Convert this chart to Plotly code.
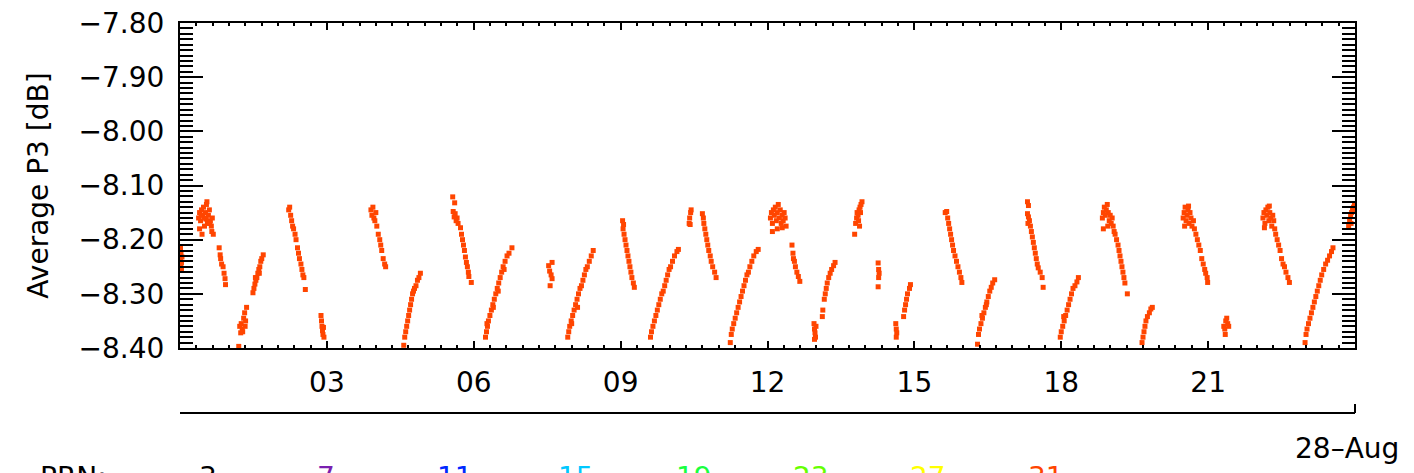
import plotly.graph_objects as go

# ---------------- data ----------------
# time of day on 28-Aug in hours, one list per satellite pass
pass_hours = [
    [0.01, 0.02, 0.01, 0.03, 0.02, 0.04, 0.03],
    [0.38, 0.40, 0.42, 0.44, 0.46, 0.48, 0.50, 0.52, 0.54, 0.56, 0.58, 0.60, 0.62, 0.64, 0.66, 0.68, 0.40, 0.45, 0.55, 0.50, 0.61, 0.65, 0.43, 0.53],
    [0.80, 0.82, 0.83, 0.85, 0.88, 0.90, 0.92, 0.93],
    [1.22, 1.25, 1.27, 1.30, 1.32, 1.34, 1.36, 1.28, 1.24, 1.33, 1.20],
    [1.49, 1.51, 1.53, 1.55, 1.57, 1.59, 1.61, 1.63, 1.65, 1.67, 1.70, 1.54, 1.62],
    [2.22, 2.24, 2.26, 2.28, 2.30, 2.32, 2.35, 2.37, 2.40, 2.42, 2.44, 2.47, 2.49, 2.51, 2.53, 2.56],
    [2.88, 2.89, 2.90, 2.91, 2.92, 2.94, 2.93],
    [3.90, 3.92, 3.94, 3.96, 3.98, 4.00, 4.02, 4.05, 4.08, 4.10, 4.12, 4.15, 4.18, 4.20],
    [4.57, 4.59, 4.61, 4.63, 4.65, 4.67, 4.69, 4.71, 4.73, 4.75, 4.77, 4.79, 4.82, 4.85, 4.88, 4.91],
    [5.57, 5.61, 5.58, 5.60, 5.62, 5.64, 5.66, 5.68, 5.73, 5.75, 5.77, 5.79, 5.81, 5.83, 5.85, 5.87, 5.89, 5.90, 5.95],
    [6.24, 6.26, 6.28, 6.30, 6.33, 6.36, 6.39, 6.42, 6.45, 6.48, 6.51, 6.54, 6.57, 6.60, 6.64, 6.68, 6.72, 6.78, 6.27, 6.40, 6.50, 6.62],
    [7.53, 7.60, 7.55, 7.58, 7.60, 7.56],
    [7.92, 7.94, 7.96, 7.99, 8.02, 8.05, 8.08, 8.11, 8.14, 8.17, 8.20, 8.23, 8.26, 8.29, 8.32, 8.36, 8.40, 8.44, 8.00, 8.12],
    [9.04, 9.06, 9.05, 9.07, 9.09, 9.11, 9.13, 9.15, 9.17, 9.19, 9.21, 9.23, 9.26, 9.28],
    [9.61, 9.63, 9.66, 9.69, 9.72, 9.75, 9.78, 9.81, 9.84, 9.87, 9.90, 9.93, 9.96, 9.99, 10.02, 10.06, 10.10, 10.15, 10.18],
    [10.40, 10.41, 10.43, 10.44, 10.42],
    [10.67, 10.69, 10.70, 10.72, 10.74, 10.76, 10.78, 10.80, 10.83, 10.85, 10.88, 10.92, 10.95],
    [11.24, 11.26, 11.28, 11.31, 11.34, 11.37, 11.40, 11.43, 11.46, 11.49, 11.52, 11.55, 11.58, 11.61, 11.64, 11.68, 11.72, 11.77, 11.81],
    [12.06, 12.08, 12.10, 12.12, 12.14, 12.16, 12.18, 12.20, 12.22, 12.24, 12.26, 12.28, 12.30, 12.32, 12.34, 12.36, 12.38, 12.10, 12.20, 12.30],
    [12.50, 12.52, 12.53, 12.55, 12.57, 12.60, 12.63, 12.66],
    [12.95, 12.96, 12.97, 12.98, 12.96, 12.99, 13.12, 13.13, 13.16, 13.18, 13.20, 13.22, 13.25, 13.28, 13.31, 13.35, 13.38],
    [13.78, 13.80, 13.82, 13.83, 13.85, 13.87, 13.89, 13.91, 13.93, 13.86, 13.90, 13.88],
    [14.26, 14.27, 14.28, 14.27, 14.26],
    [14.62, 14.63, 14.64, 14.63, 14.78, 14.80, 14.82, 14.84, 14.86, 14.90, 14.92],
    [15.63, 15.66, 15.68, 15.70, 15.72, 15.74, 15.76, 15.78, 15.80, 15.83, 15.86, 15.89, 15.92, 15.95, 15.97],
    [16.29, 16.31, 16.33, 16.36, 16.39, 16.42, 16.45, 16.48, 16.51, 16.54, 16.57, 16.60, 16.64, 16.38, 16.47],
    [17.31, 17.33, 17.31, 17.33, 17.35, 17.32, 17.37, 17.39, 17.41, 17.43, 17.45, 17.47, 17.49, 17.51, 17.53, 17.57, 17.61, 17.63],
    [17.98, 18.00, 18.03, 18.06, 18.09, 18.12, 18.15, 18.18, 18.21, 18.24, 18.28, 18.32, 18.35, 18.05],
    [18.84, 18.86, 18.88, 18.90, 18.92, 18.94, 18.96, 18.98, 19.00, 19.02, 19.04, 19.06, 18.86, 18.95, 19.08, 19.10, 19.13, 19.16, 19.18, 19.20, 19.22, 19.24, 19.26, 19.28, 19.30, 19.35],
    [19.65, 19.67, 19.69, 19.71, 19.73, 19.76, 19.80, 19.83, 19.86],
    [20.49, 20.51, 20.53, 20.55, 20.57, 20.59, 20.61, 20.63, 20.65, 20.67, 20.70, 20.72, 20.52, 20.60, 20.75, 20.78, 20.81, 20.84, 20.87, 20.90, 20.93, 20.95, 20.98, 20.99],
    [21.32, 21.34, 21.36, 21.38, 21.40, 21.35, 21.42],
    [22.12, 22.14, 22.16, 22.18, 22.20, 22.22, 22.24, 22.26, 22.28, 22.30, 22.32, 22.34, 22.36, 22.15, 22.25, 22.38, 22.41, 22.44, 22.47, 22.50, 22.53, 22.56, 22.59, 22.63, 22.66],
    [22.98, 23.00, 23.02, 23.05, 23.08, 23.11, 23.14, 23.17, 23.20, 23.23, 23.26, 23.29, 23.32, 23.36, 23.40, 23.44, 23.48, 23.52, 23.55],
    [23.87, 23.89, 23.91, 23.93, 23.95, 23.97, 23.99, 23.92],
]

# Average P3 in dB, matching pass_hours
pass_p3 = [
    [-8.215, -8.225, -8.235, -8.242, -8.25, -8.232, -8.255],
    [-8.16, -8.15, -8.165, -8.145, -8.155, -8.14, -8.16, -8.15, -8.135, -8.17, -8.155, -8.145, -8.165, -8.175, -8.16, -8.19, -8.18, -8.19, -8.13, -8.175, -8.17, -8.185, -8.155, -8.162],
    [-8.215, -8.228, -8.235, -8.245, -8.25, -8.262, -8.272, -8.283],
    [-8.36, -8.355, -8.365, -8.345, -8.335, -8.35, -8.325, -8.37, -8.372, -8.36, -8.397],
    [-8.298, -8.29, -8.282, -8.275, -8.27, -8.262, -8.255, -8.25, -8.24, -8.235, -8.228, -8.27, -8.262],
    [-8.145, -8.14, -8.155, -8.165, -8.175, -8.18, -8.19, -8.2, -8.215, -8.225, -8.235, -8.245, -8.255, -8.265, -8.27, -8.292],
    [-8.34, -8.35, -8.36, -8.368, -8.375, -8.38, -8.362],
    [-8.145, -8.155, -8.14, -8.16, -8.165, -8.15, -8.175, -8.19, -8.2, -8.21, -8.22, -8.235, -8.245, -8.25],
    [-8.395, -8.38, -8.37, -8.36, -8.35, -8.34, -8.33, -8.32, -8.31, -8.3, -8.295, -8.29, -8.285, -8.275, -8.27, -8.262],
    [-8.121, -8.132, -8.148, -8.158, -8.152, -8.165, -8.16, -8.17, -8.178, -8.19, -8.2, -8.21, -8.22, -8.232, -8.242, -8.25, -8.26, -8.268, -8.279],
    [-8.38, -8.37, -8.36, -8.35, -8.34, -8.33, -8.32, -8.31, -8.3, -8.29, -8.28, -8.27, -8.26, -8.25, -8.24, -8.23, -8.225, -8.215, -8.355, -8.325, -8.295, -8.255],
    [-8.248, -8.242, -8.258, -8.265, -8.272, -8.285],
    [-8.38, -8.37, -8.36, -8.35, -8.34, -8.33, -8.32, -8.31, -8.3, -8.29, -8.285, -8.275, -8.265, -8.255, -8.25, -8.24, -8.23, -8.22, -8.355, -8.325],
    [-8.165, -8.172, -8.18, -8.19, -8.2, -8.21, -8.22, -8.23, -8.24, -8.25, -8.26, -8.27, -8.28, -8.288],
    [-8.38, -8.37, -8.36, -8.35, -8.34, -8.33, -8.32, -8.31, -8.3, -8.295, -8.285, -8.275, -8.265, -8.255, -8.25, -8.24, -8.23, -8.222, -8.218],
    [-8.17, -8.16, -8.15, -8.145, -8.172],
    [-8.152, -8.16, -8.17, -8.18, -8.19, -8.2, -8.21, -8.22, -8.23, -8.24, -8.25, -8.26, -8.27],
    [-8.39, -8.375, -8.365, -8.355, -8.345, -8.335, -8.325, -8.315, -8.305, -8.295, -8.285, -8.275, -8.265, -8.26, -8.25, -8.24, -8.23, -8.222, -8.218],
    [-8.16, -8.15, -8.17, -8.145, -8.155, -8.14, -8.165, -8.15, -8.135, -8.16, -8.145, -8.17, -8.155, -8.165, -8.15, -8.16, -8.175, -8.185, -8.18, -8.178],
    [-8.21, -8.225, -8.235, -8.24, -8.25, -8.26, -8.268, -8.277],
    [-8.355, -8.365, -8.372, -8.38, -8.384, -8.36, -8.342, -8.33, -8.31, -8.3, -8.29, -8.28, -8.27, -8.262, -8.255, -8.248, -8.242],
    [-8.19, -8.17, -8.16, -8.15, -8.155, -8.145, -8.14, -8.135, -8.13, -8.165, -8.15, -8.175],
    [-8.243, -8.255, -8.262, -8.27, -8.287],
    [-8.355, -8.365, -8.372, -8.38, -8.342, -8.33, -8.32, -8.31, -8.3, -8.29, -8.283],
    [-8.15, -8.148, -8.16, -8.17, -8.18, -8.19, -8.2, -8.21, -8.22, -8.23, -8.24, -8.25, -8.26, -8.27, -8.279],
    [-8.393, -8.375, -8.365, -8.355, -8.345, -8.335, -8.325, -8.315, -8.305, -8.295, -8.288, -8.28, -8.274, -8.34, -8.32],
    [-8.13, -8.137, -8.152, -8.158, -8.165, -8.17, -8.175, -8.185, -8.195, -8.205, -8.215, -8.225, -8.235, -8.245, -8.252, -8.26, -8.27, -8.288],
    [-8.38, -8.37, -8.36, -8.35, -8.34, -8.33, -8.32, -8.31, -8.3, -8.29, -8.285, -8.278, -8.27, -8.342],
    [-8.16, -8.15, -8.14, -8.155, -8.145, -8.135, -8.15, -8.165, -8.155, -8.17, -8.16, -8.175, -8.18, -8.175, -8.185, -8.19, -8.2, -8.21, -8.22, -8.23, -8.24, -8.25, -8.26, -8.27, -8.28, -8.3],
    [-8.39, -8.38, -8.37, -8.36, -8.35, -8.342, -8.335, -8.328, -8.325],
    [-8.16, -8.15, -8.14, -8.165, -8.155, -8.145, -8.17, -8.15, -8.16, -8.175, -8.165, -8.18, -8.175, -8.138, -8.19, -8.2, -8.21, -8.22, -8.235, -8.245, -8.255, -8.262, -8.27, -8.279],
    [-8.36, -8.365, -8.35, -8.345, -8.355, -8.375, -8.36],
    [-8.16, -8.15, -8.17, -8.145, -8.155, -8.14, -8.165, -8.15, -8.16, -8.175, -8.155, -8.165, -8.18, -8.178, -8.138, -8.19, -8.2, -8.21, -8.22, -8.235, -8.245, -8.25, -8.26, -8.27, -8.279],
    [-8.39, -8.375, -8.365, -8.355, -8.345, -8.335, -8.325, -8.315, -8.305, -8.295, -8.285, -8.275, -8.265, -8.255, -8.245, -8.238, -8.23, -8.222, -8.215],
    [-8.175, -8.165, -8.155, -8.15, -8.145, -8.14, -8.135, -8.17],
]

x_tick_hours = [3, 6, 9, 12, 15, 18, 21]
x_tick_labels = ["03", "06", "09", "12", "15", "18", "21"]
y_tick_values = [-7.80, -7.90, -8.00, -8.10, -8.20, -8.30, -8.40]
y_tick_labels = ["\u22127.80", "\u22127.90", "\u22128.00", "\u22128.10", "\u22128.20", "\u22128.30", "\u22128.40"]
date_label = "28\u2013Aug"
prn_labels = ["3", "7", "11", "15", "19", "23", "27", "31"]
prn_colors = ["#000000", "#7a1fb0", "#0028ff", "#00c8ff", "#19ff40", "#66ff00", "#ffff00", "#ff4500"]
prn_xpos = [208, 326, 455, 576, 694, 811, 928, 1046]

# ---------------- figure ----------------
hours = []
avg_p3 = []
for hs, vs in zip(pass_hours, pass_p3):
    for h, v in zip(hs, vs):
        hours.append(h)
        avg_p3.append(v)

FONT = "DejaVu Sans"
W, H = 1414, 473
ML, MR, MT, MB = 180, 59, 23, 125
PH = H - MT - MB
PW = W - ML - MR

fig = go.Figure()
fig.add_trace(go.Scatter(
    x=hours, y=avg_p3, mode="markers",
    marker=dict(symbol="square", size=5, color="#ff4500", line=dict(width=0)),
    showlegend=False, hoverinfo="skip",
))

fig.update_layout(
    width=W, height=H,
    margin=dict(l=ML, r=MR, t=MT, b=MB, pad=0, autoexpand=False),
    paper_bgcolor="white", plot_bgcolor="white",
    font=dict(family=FONT, size=28, color="black"),
    xaxis=dict(
        range=[0, 24], showgrid=False, zeroline=False, automargin=False,
        showline=True, linecolor="black", linewidth=2, mirror="ticks",
        tickmode="array", tickvals=x_tick_hours, ticktext=x_tick_labels,
        ticks="inside", ticklen=7, tickwidth=2, tickcolor="black",
        ticklabelstandoff=8,
        tickfont=dict(family=FONT, size=28, color="black"),
        minor=dict(dtick=1 / 3, tick0=0, ticks="inside", ticklen=3, tickwidth=2, tickcolor="black", showgrid=False),
    ),
    yaxis=dict(
        range=[-8.40, -7.80], showgrid=False, zeroline=False, automargin=False,
        showline=True, linecolor="black", linewidth=2, mirror="ticks",
        tickmode="array", tickvals=y_tick_values, ticktext=y_tick_labels,
        ticks="inside", ticklen=23, tickwidth=2, tickcolor="black",
        ticklabelstandoff=8,
        tickfont=dict(family=FONT, size=28, color="black"),
        minor=dict(dtick=0.01, tick0=-8.40, ticks="inside", ticklen=13, tickwidth=2, tickcolor="black", showgrid=False),
        title=dict(text="Average P3 [dB]", standoff=22, font=dict(family=FONT, size=28, color="black")),
    ),
)

# second (date) axis line below the plot
y2 = -65 / PH
fig.add_shape(type="line", xref="paper", yref="paper", x0=0, x1=1, y0=y2, y1=y2,
              line=dict(color="black", width=2))
fig.add_shape(type="line", xref="paper", yref="paper", x0=1, x1=1, y0=y2, y1=y2 + 9 / PH,
              line=dict(color="black", width=2))
fig.add_annotation(text=date_label, xref="paper", yref="paper", x=(1293 - ML) / PW, y=-(448 - (H - MB)) / PH,
                   xanchor="left", yanchor="middle", showarrow=False,
                   font=dict(family=FONT, size=28, color="black"))

# PRN colour key (cut off at the bottom of the page, as in the reference)
ky = -(477 - (H - MB)) / PH
fig.add_annotation(text="PRN:", xref="paper", yref="paper", x=(38 - ML) / PW, y=ky,
                   xanchor="left", yanchor="middle", showarrow=False,
                   font=dict(family=FONT, size=28, color="black"))
for lab, col, xp in zip(prn_labels, prn_colors, prn_xpos):
    fig.add_annotation(text=lab, xref="paper", yref="paper", x=(xp - ML) / PW, y=ky,
                       xanchor="center", yanchor="middle", showarrow=False,
                       font=dict(family=FONT, size=28, color=col))

fig.write_html("out.html", config={"displayModeBar": False},
               post_script="document.body.style.margin='0';")
